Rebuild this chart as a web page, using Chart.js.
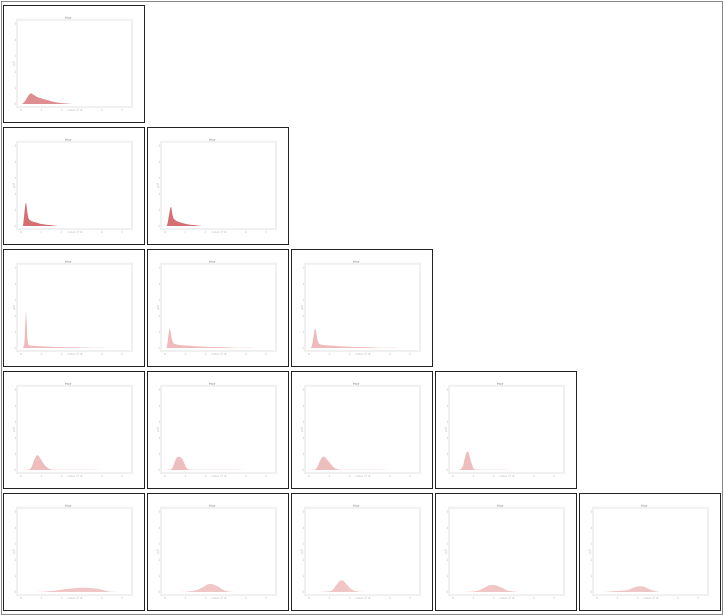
<!DOCTYPE html>
<html>
<head>
<meta charset="utf-8">
<script src="https://cdn.jsdelivr.net/npm/chart.js@4.4.0/dist/chart.umd.min.js"></script>
<style>
  html, body { margin: 0; padding: 0; background: #fff; }
  #frame { position: absolute; left: 1px; top: 1px; width: 720px; height: 612px; border: 1px solid #888; }
  .panel { position: absolute; width: 140px; height: 116px; border: 1px solid #222; background: #fff; }
  .panel canvas { display: block; }
</style>
</head>
<body>
<div id="frame"></div>
<div id="grid"></div>
<script>
// tick labels shared by every panel
const xTicks = [0, 1, 2, 3, 4, 5];
const yTicks = [0, 1, 2, 3, 4, 5];

// fill colour per row
const rowColors = ['rgb(222,142,144)', 'rgb(212,112,116)', 'rgb(238,186,187)', 'rgb(238,190,190)', 'rgb(241,198,198)'];

// row 0
const xs00 = [0, 0.1, 0.2, 0.3, 0.4, 0.5, 0.6, 0.8, 1.0, 1.2, 1.5, 1.8, 2.1, 2.4, 2.7];
const ys00 = [0, 0.05, 0.2, 0.4, 0.58, 0.68, 0.6, 0.45, 0.36, 0.28, 0.18, 0.1, 0.05, 0.02, 0];

// row 1
const xs10 = [0.05, 0.1, 0.15, 0.2, 0.25, 0.3, 0.35, 0.4, 0.5, 0.7, 0.9, 1.1, 1.4, 1.7, 2.0];
const ys10 = [0, 0.05, 0.6, 1.2, 1.44, 1.0, 0.6, 0.42, 0.32, 0.24, 0.17, 0.12, 0.07, 0.03, 0];
const xs11 = [0.05, 0.1, 0.2, 0.25, 0.3, 0.35, 0.4, 0.5, 0.7, 0.9, 1.1, 1.4, 1.7, 2.0];
const ys11 = [0, 0.05, 0.7, 1.05, 1.2, 0.85, 0.55, 0.38, 0.26, 0.18, 0.12, 0.07, 0.03, 0];

// row 2
const xs20 = [0.05, 0.1, 0.18, 0.22, 0.25, 0.28, 0.32, 0.4, 0.6, 1.0, 1.5, 2.0, 2.5, 3.0, 3.5, 4.0, 4.5];
const ys20 = [0, 0.03, 0.6, 1.8, 2.26, 1.6, 0.6, 0.2, 0.14, 0.11, 0.09, 0.07, 0.05, 0.04, 0.03, 0.02, 0];
const xs21 = [0, 0.08, 0.15, 0.2, 0.23, 0.28, 0.33, 0.4, 0.5, 0.7, 1.0, 1.5, 2.0, 2.5, 3.0, 3.5, 4.0, 4.5];
const ys21 = [0, 0.05, 0.6, 1.1, 1.2, 1.0, 0.6, 0.35, 0.25, 0.2, 0.16, 0.12, 0.09, 0.07, 0.05, 0.03, 0.015, 0];
const xs22 = [0, 0.1, 0.18, 0.25, 0.3, 0.35, 0.4, 0.47, 0.55, 0.7, 1.0, 1.5, 2.0, 2.5, 3.0, 3.5, 4.0, 4.5];
const ys22 = [0, 0.04, 0.4, 0.95, 1.2, 1.05, 0.65, 0.35, 0.24, 0.2, 0.16, 0.12, 0.09, 0.07, 0.05, 0.03, 0.015, 0];

// row 3
const xs30 = [0, 0.2, 0.4, 0.5, 0.6, 0.7, 0.8, 0.9, 1.0, 1.1, 1.2, 1.35, 1.5, 2.0, 3.0, 4.0, 4.5];
const ys30 = [0.01, 0.02, 0.04, 0.15, 0.45, 0.75, 0.93, 0.85, 0.65, 0.45, 0.28, 0.12, 0.04, 0.02, 0.015, 0.01, 0.01];
const xs31 = [0, 0.2, 0.35, 0.45, 0.55, 0.65, 0.75, 0.85, 0.95, 1.05, 1.15, 1.3, 2.0, 3.0, 4.0, 4.5];
const ys31 = [0.01, 0.02, 0.1, 0.4, 0.72, 0.83, 0.82, 0.7, 0.45, 0.18, 0.05, 0.03, 0.02, 0.015, 0.01, 0.01];
const xs32 = [0, 0.2, 0.35, 0.45, 0.55, 0.65, 0.72, 0.8, 0.9, 1.0, 1.1, 1.2, 1.35, 1.5, 2.0, 3.0, 4.0, 4.5];
const ys32 = [0.01, 0.02, 0.08, 0.3, 0.6, 0.8, 0.85, 0.78, 0.65, 0.5, 0.35, 0.2, 0.08, 0.03, 0.02, 0.015, 0.01, 0.01];
const xs33 = [0, 0.3, 0.4, 0.5, 0.55, 0.6, 0.65, 0.7, 0.75, 0.8, 0.85, 0.9, 0.95, 1.0, 1.1, 1.3, 2.0, 3.0, 4.0, 4.5];
const ys33 = [0.01, 0.02, 0.08, 0.3, 0.55, 0.85, 1.05, 1.14, 1.12, 0.98, 0.75, 0.5, 0.3, 0.15, 0.04, 0.02, 0.015, 0.01, 0.01, 0.01];

// row 4
const xs40 = [0, 0.5, 1.0, 1.5, 2.0, 2.5, 2.8, 3.1, 3.4, 3.7, 4.0, 4.3, 4.6, 5.0];
const ys40 = [0, 0.01, 0.03, 0.07, 0.15, 0.23, 0.26, 0.27, 0.26, 0.22, 0.14, 0.06, 0.02, 0.005];
const xs41 = [0, 0.5, 1.0, 1.5, 1.8, 2.0, 2.2, 2.4, 2.6, 2.8, 3.0, 3.3, 3.6, 4.0];
const ys41 = [0, 0.01, 0.03, 0.1, 0.25, 0.4, 0.5, 0.48, 0.36, 0.2, 0.09, 0.03, 0.01, 0];
const xs42 = [0, 0.5, 1.0, 1.2, 1.35, 1.5, 1.6, 1.7, 1.85, 2.0, 2.2, 2.5, 3.0, 4.0];
const ys42 = [0, 0.01, 0.05, 0.18, 0.45, 0.68, 0.74, 0.7, 0.5, 0.28, 0.1, 0.03, 0.01, 0];
const xs43 = [0, 0.5, 1.0, 1.3, 1.6, 1.8, 2.0, 2.2, 2.4, 2.6, 2.9, 3.3, 4.0];
const ys43 = [0, 0.01, 0.04, 0.12, 0.3, 0.42, 0.45, 0.4, 0.28, 0.15, 0.05, 0.01, 0];
const xs44 = [0, 0.5, 1.0, 1.3, 1.6, 1.8, 2.0, 2.2, 2.4, 2.6, 2.8, 3.0, 3.3, 4.0, 5.0];
const ys44 = [0.01, 0.03, 0.07, 0.1, 0.17, 0.27, 0.35, 0.37, 0.3, 0.18, 0.08, 0.03, 0.01, 0.005, 0];

// which curve goes in which cell of the lower triangle
const panels = [
  { row: 0, col: 0, xs: xs00, ys: ys00 },
  { row: 1, col: 0, xs: xs10, ys: ys10 },
  { row: 1, col: 1, xs: xs11, ys: ys11 },
  { row: 2, col: 0, xs: xs20, ys: ys20 },
  { row: 2, col: 1, xs: xs21, ys: ys21 },
  { row: 2, col: 2, xs: xs22, ys: ys22 },
  { row: 3, col: 0, xs: xs30, ys: ys30 },
  { row: 3, col: 1, xs: xs31, ys: ys31 },
  { row: 3, col: 2, xs: xs32, ys: ys32 },
  { row: 3, col: 3, xs: xs33, ys: ys33 },
  { row: 4, col: 0, xs: xs40, ys: ys40 },
  { row: 4, col: 1, xs: xs41, ys: ys41 },
  { row: 4, col: 2, xs: xs42, ys: ys42 },
  { row: 4, col: 3, xs: xs43, ys: ys43 },
  { row: 4, col: 4, xs: xs44, ys: ys44 },
];

// light box round the plot area
const boxPlugin = {
  id: 'plotBox',
  beforeDatasetsDraw(chart) {
    const a = chart.chartArea;
    const ctx = chart.ctx;
    ctx.save();
    ctx.strokeStyle = '#f0f0f0';
    ctx.lineWidth = 2;
    ctx.strokeRect(a.left, a.top, a.right - a.left, a.bottom - a.top);
    ctx.restore();
  }
};

const tinyFont = { family: 'DejaVu Sans', size: 3 };
const grid = document.getElementById('grid');

panels.forEach(p => {
  const div = document.createElement('div');
  div.className = 'panel';
  div.style.left = (3 + 144 * p.col) + 'px';
  div.style.top = (5 + 122 * p.row) + 'px';
  const canvas = document.createElement('canvas');
  canvas.width = 140;
  canvas.height = 116;
  div.appendChild(canvas);
  grid.appendChild(div);

  new Chart(canvas, {
    type: 'line',
    data: {
      datasets: [{
        data: p.xs.map((x, i) => ({ x: x, y: p.ys[i] })),
        fill: 'origin',
        backgroundColor: rowColors[p.row],
        borderWidth: 0,
        pointRadius: 0,
        cubicInterpolationMode: 'monotone',
      }],
    },
    options: {
      responsive: false,
      animation: false,
      events: [],
      layout: { padding: { left: 0, right: 12, top: 0, bottom: 0 } },
      plugins: {
        legend: { display: false },
        tooltip: { enabled: false },
        title: {
          display: true,
          text: 'Plot',
          font: tinyFont,
          color: '#b0b0b0',
          padding: { top: 10.2, bottom: 0 },
        },
      },
      scales: {
        x: {
          type: 'linear',
          min: -0.2,
          max: 5.5,
          grid: { display: false, drawTicks: false },
          border: { display: false },
          afterBuildTicks: s => { s.ticks = xTicks.map(v => ({ value: v })); },
          afterFit: s => { s.height = 15; },
          ticks: { font: tinyFont, color: '#c4c4c4', padding: 1, autoSkip: false, maxRotation: 0 },
          title: { display: true, text: 'value of x', font: tinyFont, color: '#c4c4c4', padding: { top: 0, bottom: 10.2 } },
        },
        y: {
          type: 'linear',
          min: -0.18,
          max: 5.25,
          grid: { display: false, drawTicks: false },
          border: { display: false },
          afterBuildTicks: s => { s.ticks = yTicks.map(v => ({ value: v })); },
          afterFit: s => { s.width = 13; },
          ticks: { font: tinyFont, color: '#c4c4c4', padding: 0.5, autoSkip: false },
          title: { display: true, text: 'pdf', font: tinyFont, color: '#c4c4c4', padding: { top: 8.5, bottom: 0 } },
        },
      },
    },
    plugins: [boxPlugin],
  });
});
</script>
</body>
</html>
